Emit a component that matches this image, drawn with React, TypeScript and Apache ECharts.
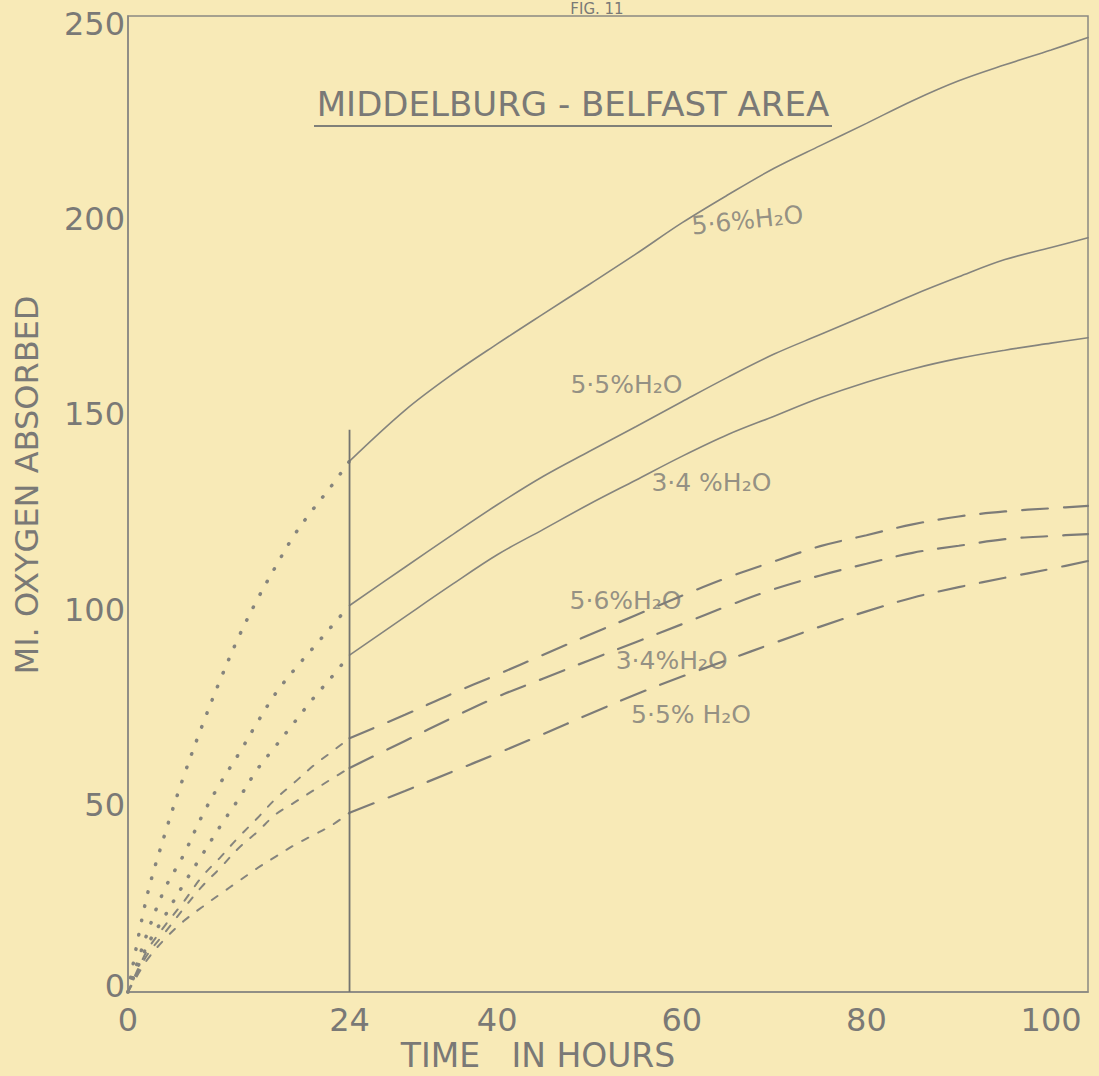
import React, { useEffect, useRef } from "react";
import * as echarts from "echarts";

// Hours (x) for the extrapolated part (0–24 h) and the measured part (24 h onward)
const hoursEarly = [0, 2, 4, 6, 8, 10, 12, 14, 16, 18, 20, 22, 24];
const hoursLate = [24, 30, 35, 40, 45, 50, 55, 60, 65, 70, 75, 80, 85, 90, 95, 100, 104];

// Solid curves (dotted before 24 h)
const solid56Early = [0, 24, 40.5, 55, 68, 80, 91, 100.5, 109, 117, 123.5, 129.5, 136];
const solid56Late = [136, 149, 158, 166, 173.7, 181.3, 189, 197, 204.2, 211, 216.8, 222.5, 228.3, 233.4, 237.5, 241.3, 244.5];
const solid55Early = [0, 14.5, 26.5, 35, 45, 53.5, 61, 69, 76.5, 82.5, 88, 93.5, 99];
const solid55Late = [99, 108.8, 116.9, 124.8, 132.1, 138.5, 144.8, 151.2, 157.5, 163.4, 168.4, 173.4, 178.5, 183.2, 187.6, 190.7, 193.2];
const solid34Early = [0, 11.5, 19.5, 27.5, 35, 42.5, 49.5, 57, 63, 69, 75, 80.5, 86.3];
const solid34Late = [86.3, 96.1, 104.2, 112, 118.5, 125, 131.1, 137.2, 142.8, 147.5, 152.2, 156.2, 159.6, 162.3, 164.4, 166.2, 167.6];

// Dashed curves (short dashes before 24 h)
const dashed56Early = [0, 10.3, 17, 23, 29.5, 34.5, 39.7, 44.5, 49.5, 53.6, 57.8, 61.4, 65];
const dashed56Late = [65, 71, 76.3, 81.3, 86.4, 91.5, 96.5, 101.5, 106.2, 110.3, 114.2, 117, 119.8, 121.8, 123.1, 123.9, 124.5];
const dashed34Early = [0, 9.2, 15.2, 21.3, 27, 31.8, 36.9, 41, 45.5, 48.5, 51.5, 54.5, 57.4];
const dashed34Late = [57.4, 64.3, 70.1, 75.6, 80.3, 85, 89.6, 94.2, 98.9, 103.2, 106.7, 109.7, 112.5, 114.3, 116, 116.8, 117.3];
const dashed55Early = [0, 8, 13.6, 18.1, 21.7, 25.1, 28.4, 31.7, 34.7, 37.6, 40.1, 42.6, 45.9];
const dashed55Late = [45.9, 51.5, 56.3, 61.1, 66.1, 71.2, 76.2, 80.8, 85.1, 89.4, 93.6, 97.5, 101, 103.7, 106.1, 108.4, 110.4];

// Vertical marker at 24 hours
const markerHour = 24;
const markerTop = 144;

// Tick labels
const xTickLabels = [0, 24, 40, 60, 80, 100];
const yTickInterval = 50;

// Curve annotations (data coordinates)
const curveLabelTexts = ["5·6%H₂O", "5·5%H₂O", "3·4 %H₂O", "5·6%H₂O", "3·4%H₂O", "5·5% H₂O"];
const curveLabelHours = [67.1, 54, 63.2, 53.9, 58.9, 61];
const curveLabelValues = [197.7, 155.5, 130.4, 100.4, 85, 71];
const curveLabelRotate = [6, 0, 0, 0, 0, 0];

export default function App() {
  const ref = useRef<HTMLDivElement>(null);
  useEffect(() => {
    document.body.style.margin = "0";
    const chart = echarts.init(ref.current!, null, { renderer: "svg" });
    const ink = "#85847d";
    const textInk = "#7a7976";
    const font = "DejaVu Sans";
    const pair = (xs: number[], ys: number[]) => xs.map((x, i) => [x, ys[i]]);
    const line = (xs: number[], ys: number[], type: any, width: number, color = ink) => ({
      type: "line",
      data: pair(xs, ys),
      smooth: 0.35,
      symbol: "none",
      silent: true,
      lineStyle: { color, width, type, cap: "round" },
    });
    const dots: any = [0.5, 14];
    const shortDash: any = [7, 11];
    const longDash: any = [26, 16];
    const centered = { align: "center", verticalAlign: "middle", textAlign: "center", textVerticalAlign: "middle" };
    const yLabelStyle = { fontSize: 32, color: textInk, fontFamily: font };

    chart.setOption({
      animation: false,
      backgroundColor: "#f8eab7",
      grid: {
        left: 128,
        right: 11,
        top: 16,
        bottom: 84,
        show: true,
        borderColor: "#8a8983",
        borderWidth: 1.5,
      },
      xAxis: {
        type: "value",
        min: 0,
        max: 104,
        axisLine: { show: true, lineStyle: { color: "#8a8983", width: 1.5 } },
        axisTick: { show: false },
        splitLine: { show: false },
        axisLabel: {
          customValues: xTickLabels,
          fontSize: 32,
          color: textInk,
          fontFamily: font,
          margin: 12,
        },
      },
      yAxis: {
        type: "value",
        min: 0,
        max: 250,
        interval: yTickInterval,
        axisLine: { show: true, lineStyle: { color: "#8a8983", width: 1.5 } },
        axisTick: { show: false },
        splitLine: { show: false },
        axisLabel: {
          ...yLabelStyle,
          margin: 3,
          formatter: (v: number) => (v === 0 ? "{z|0}" : `{n|${v}}`),
          rich: {
            n: { ...yLabelStyle, padding: [16, 0, 0, 0] },
            z: { ...yLabelStyle, padding: [0, 0, 12, 0] },
          },
        },
      },
      series: [
        line(hoursEarly, solid56Early, dots, 3.5),
        line(hoursLate, solid56Late, "solid", 1.6),
        line(hoursEarly, solid55Early, dots, 3.5),
        line(hoursLate, solid55Late, "solid", 1.6),
        line(hoursEarly, solid34Early, dots, 3.5),
        line(hoursLate, solid34Late, "solid", 1.6),
        line(hoursEarly, dashed56Early, shortDash, 2),
        line(hoursLate, dashed56Late, longDash, 2.2, "#7d7c78"),
        line(hoursEarly, dashed34Early, shortDash, 2),
        line(hoursLate, dashed34Late, longDash, 2.2, "#7d7c78"),
        line(hoursEarly, dashed55Early, shortDash, 2),
        line(hoursLate, dashed55Late, longDash, 2.2, "#7d7c78"),
        {
          type: "line",
          data: [
            [markerHour, 0],
            [markerHour, markerTop],
          ],
          symbol: "none",
          silent: true,
          lineStyle: { color: "#747470", width: 1.8 },
        },
        {
          type: "scatter",
          symbolSize: 0.1,
          silent: true,
          itemStyle: { color: "transparent" },
          label: {
            show: true,
            position: "inside",
            fontSize: 25,
            color: textInk,
            fontFamily: font,
          },
          data: curveLabelTexts.map((t, i) => ({
            value: [curveLabelHours[i], curveLabelValues[i]],
            label: { formatter: t, rotate: curveLabelRotate[i] },
          })),
        },
      ],
      graphic: [
        {
          type: "text",
          x: 597,
          y: 9,
          silent: true,
          style: { text: "FIG. 11", fill: textInk, font: `15px '${font}'`, ...centered },
        },
        {
          type: "text",
          x: 573,
          y: 104,
          silent: true,
          style: { text: "MIDDELBURG - BELFAST AREA", fill: textInk, font: `34px '${font}'`, ...centered },
        },
        {
          type: "line",
          silent: true,
          shape: { x1: 314, y1: 126, x2: 832, y2: 126 },
          style: { stroke: "#808079", lineWidth: 2 },
        },
        {
          type: "text",
          x: 27,
          y: 485,
          rotation: Math.PI / 2,
          silent: true,
          style: { text: "MI. OXYGEN ABSORBED", fill: textInk, font: `32px '${font}'`, ...centered },
        },
        {
          type: "text",
          x: 538,
          y: 1055,
          silent: true,
          style: { text: "TIME   IN HOURS", fill: textInk, font: `33px '${font}'`, ...centered },
        },
      ],
    });
    return () => chart.dispose();
  }, []);
  return (
    <div
      ref={ref}
      style={{ position: "absolute", left: 0, top: 0, width: 1099, height: 1076 }}
    />
  );
}
